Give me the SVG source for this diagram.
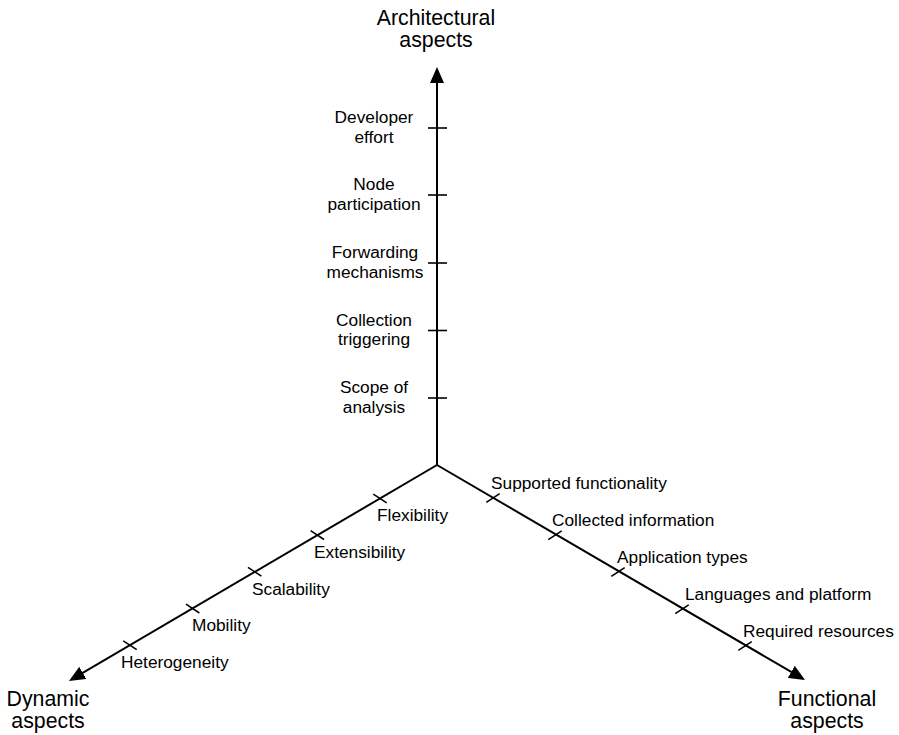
<svg xmlns="http://www.w3.org/2000/svg" width="899" height="735" viewBox="0 0 899 735">
<style>
  .axis { stroke: #000; stroke-width: 2; fill: none; }
  .tick { stroke: #000; stroke-width: 1.6; fill: none; }
  .lbl { font-family: "Liberation Sans", Arial, sans-serif; font-size: 17.3px; fill: #000; }
  .ttl { font-family: "Liberation Sans", Arial, sans-serif; font-size: 21.3px; fill: #000; text-anchor: middle; }
  .mid { text-anchor: middle; }
</style>
<defs>
  <marker id="arr" viewBox="0 0 16 14" refX="6" refY="7" markerWidth="16" markerHeight="14" markerUnits="userSpaceOnUse" orient="auto">
    <path d="M0,0 L16,7 L0,14 z" fill="#000"/>
  </marker>
</defs>
<rect width="899" height="735" fill="#fff"/>

<g id="connectors">
  <line class="axis" x1="437" y1="465" x2="437" y2="77" marker-end="url(#arr)"/>
  <line class="axis" x1="437" y1="465" x2="77.6" y2="675.9" marker-end="url(#arr)"/>
  <line class="axis" x1="437" y1="465" x2="796.4" y2="674.9" marker-end="url(#arr)"/>
</g>

<g id="axis-architectural">
  <text class="ttl" x="436" y="25">Architectural</text>
  <text class="ttl" x="436" y="47">aspects</text>
</g>
<g id="axis-dynamic">
  <text class="ttl" x="48" y="706">Dynamic</text>
  <text class="ttl" x="48" y="728">aspects</text>
</g>
<g id="axis-functional">
  <text class="ttl" x="827" y="706">Functional</text>
  <text class="ttl" x="827" y="728">aspects</text>
</g>

<g id="developer-effort">
  <line class="tick" x1="428" y1="128" x2="447" y2="128"/>
  <text class="lbl mid" x="374" y="123">Developer</text>
  <text class="lbl mid" x="374" y="142.5">effort</text>
</g>
<g id="node-participation">
  <line class="tick" x1="428" y1="195" x2="447" y2="195"/>
  <text class="lbl mid" x="374" y="190">Node</text>
  <text class="lbl mid" x="374" y="209.5">participation</text>
</g>
<g id="forwarding-mechanisms">
  <line class="tick" x1="428" y1="263" x2="447" y2="263"/>
  <text class="lbl mid" x="375" y="258">Forwarding</text>
  <text class="lbl mid" x="375" y="277.5">mechanisms</text>
</g>
<g id="collection-triggering">
  <line class="tick" x1="428" y1="330.5" x2="447" y2="330.5"/>
  <text class="lbl mid" x="374" y="325.5">Collection</text>
  <text class="lbl mid" x="374" y="345">triggering</text>
</g>
<g id="scope-of-analysis">
  <line class="tick" x1="428" y1="398" x2="447" y2="398"/>
  <text class="lbl mid" x="374" y="393">Scope of</text>
  <text class="lbl mid" x="374" y="412.5">analysis</text>
</g>

<g id="flexibility">
  <line class="tick" x1="373.3" y1="494.1" x2="386.7" y2="502.9"/>
  <text class="lbl" x="377" y="520.5">Flexibility</text>
</g>
<g id="extensibility">
  <line class="tick" x1="310.6" y1="530.7" x2="324" y2="539.5"/>
  <text class="lbl" x="314" y="557.5">Extensibility</text>
</g>
<g id="scalability">
  <line class="tick" x1="248" y1="567.4" x2="261.4" y2="576.2"/>
  <text class="lbl" x="252" y="594.5">Scalability</text>
</g>
<g id="mobility">
  <line class="tick" x1="186" y1="604.2" x2="199.4" y2="613"/>
  <text class="lbl" x="192" y="631">Mobility</text>
</g>
<g id="heterogeneity">
  <line class="tick" x1="123.3" y1="640.9" x2="136.7" y2="649.7"/>
  <text class="lbl" x="121" y="667.5">Heterogeneity</text>
</g>

<g id="supported-functionality">
  <line class="tick" x1="486.3" y1="502.4" x2="499.7" y2="493.6"/>
  <text class="lbl" x="491" y="488.5">Supported functionality</text>
</g>
<g id="collected-information">
  <line class="tick" x1="548.3" y1="539.6" x2="561.7" y2="530.8"/>
  <text class="lbl" x="552" y="525.5">Collected information</text>
</g>
<g id="application-types">
  <line class="tick" x1="611.3" y1="576.4" x2="624.7" y2="567.6"/>
  <text class="lbl" x="617" y="562.5">Application types</text>
</g>
<g id="languages-and-platform">
  <line class="tick" x1="675.3" y1="613.6" x2="688.7" y2="604.8"/>
  <text class="lbl" x="685" y="599.5">Languages and platform</text>
</g>
<g id="required-resources">
  <line class="tick" x1="738.3" y1="650.4" x2="751.7" y2="641.6"/>
  <text class="lbl" x="743" y="636.5">Required resources</text>
</g>
</svg>
